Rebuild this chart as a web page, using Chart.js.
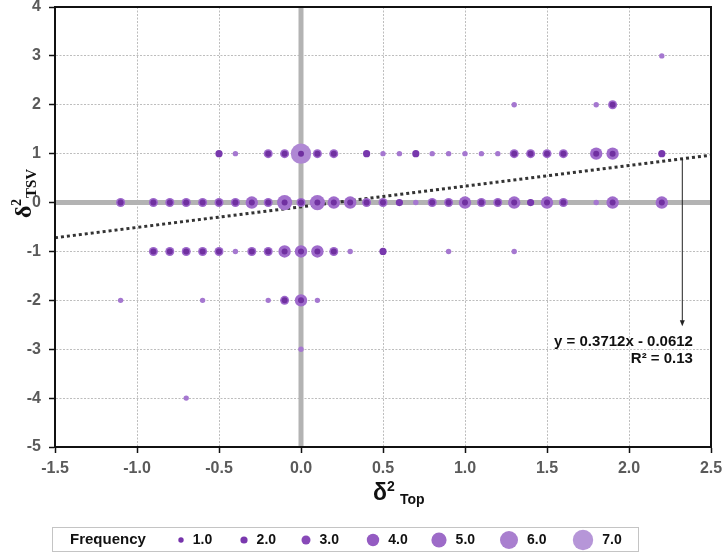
<!DOCTYPE html>
<html>
<head>
<meta charset="utf-8">
<script src="https://cdn.jsdelivr.net/npm/chart.js@4/dist/chart.umd.min.js"></script>
<style>
  body { margin: 0; background: #fff; }
  #wrap { width: 724px; height: 553px; }
</style>
</head>
<body>
<div id="wrap"><canvas id="bubbleChart"></canvas></div>
<script>
// observations: delta^2 Top (x), delta^2 TSV (y) and how often each pair occurs
const pointX = [
  2.2,
  1.3, 1.8, 1.9,
  -0.5, -0.4, -0.2, -0.1, 0, 0.1, 0.2, 0.4, 0.5, 0.6, 0.7, 0.8, 0.9, 1.0, 1.1, 1.2, 1.3, 1.4, 1.5, 1.6, 1.8, 1.9, 2.2,
  -1.1, -0.9, -0.8, -0.7, -0.6, -0.5, -0.4, -0.3, -0.2, -0.1, 0, 0.1, 0.2, 0.3, 0.4, 0.5, 0.6, 0.7, 0.8, 0.9, 1.0, 1.1, 1.2, 1.3, 1.4, 1.5, 1.6, 1.8, 1.9, 2.2,
  -0.9, -0.8, -0.7, -0.6, -0.5, -0.4, -0.3, -0.2, -0.1, 0, 0.1, 0.2, 0.3, 0.5, 0.9, 1.3,
  -1.1, -0.6, -0.2, -0.1, 0, 0.1,
  0,
  -0.7
];
const pointY = [
  3,
  2, 2, 2,
  1, 1, 1, 1, 1, 1, 1, 1, 1, 1, 1, 1, 1, 1, 1, 1, 1, 1, 1, 1, 1, 1, 1,
  0, 0, 0, 0, 0, 0, 0, 0, 0, 0, 0, 0, 0, 0, 0, 0, 0, 0, 0, 0, 0, 0, 0, 0, 0, 0, 0, 0, 0, 0,
  -1, -1, -1, -1, -1, -1, -1, -1, -1, -1, -1, -1, -1, -1, -1, -1,
  -2, -2, -2, -2, -2, -2,
  -3,
  -4
];
const pointFreq = [
  1,
  1, 1, 3,
  2, 1, 3, 3, 7, 3, 3, 2, 1, 1, 2, 1, 1, 1, 1, 1, 3, 3, 3, 3, 4, 4, 2,
  3, 3, 3, 3, 3, 3, 3, 4, 3, 5, 3, 5, 4, 4, 3, 3, 2, 1, 3, 3, 4, 3, 3, 4, 2, 4, 3, 1, 4, 4,
  3, 3, 3, 3, 3, 1, 3, 3, 4, 4, 4, 3, 1, 2, 1, 1,
  1, 1, 1, 3, 4, 1,
  1,
  1
];

// trend line as drawn (end points)
const trendX = [-1.5, 2.5];
const trendY = [-0.72, 0.97];
const trendLabel = 'y = 0.3712x - 0.0612';
const r2Label = 'R² = 0.13';

const xTicks = [-1.5, -1.0, -0.5, 0.0, 0.5, 1.0, 1.5, 2.0, 2.5];
const yTicks = [-5, -4, -3, -2, -1, 0, 1, 2, 3, 4];
const freqLevels = [1, 2, 3, 4, 5, 6, 7];

// size and colour for each frequency level
const freqRadius = { 1: 2.7, 2: 3.6, 3: 4.5, 4: 6.2, 5: 7.6, 6: 9.0, 7: 10.2 };
const legendColor = { 1: '#7633ab', 2: '#7a38ae', 3: '#8849b8', 4: '#945bc2', 5: '#9d6bc8', 6: '#a97fcf', 7: '#b696d8' };
const haloColor = { 1: '#a577d0', 2: '#7838ad', 3: '#9d68cb', 4: '#9f6bcb', 5: '#a372cd', 6: '#a87bd0', 7: '#af88d4' };
const coreColor = '#7030a0';

const bubbles = pointX.map((x, i) => ({ x: x, y: pointY[i] }));
const cores = bubbles.filter((p, i) => pointFreq[i] >= 3);

const tickFont = { family: 'Liberation Sans, Arial, sans-serif', size: 16, weight: 'bold' };

// extra drawing: zero lines, frame, axis titles, annotation, legend
const decorations = {
  id: 'decorations',
  beforeDatasetsDraw(chart) {
    const { ctx, chartArea: a, scales: { x, y } } = chart;
    ctx.save();
    ctx.strokeStyle = '#b3b3b3';
    ctx.lineWidth = 5;
    ctx.beginPath();
    ctx.moveTo(a.left, y.getPixelForValue(0));
    ctx.lineTo(a.right, y.getPixelForValue(0));
    ctx.moveTo(x.getPixelForValue(0), a.top);
    ctx.lineTo(x.getPixelForValue(0), a.bottom);
    ctx.stroke();
    ctx.restore();
  },
  afterDraw(chart) {
    const { ctx, chartArea: a, scales: { x, y } } = chart;
    ctx.save();

    // frame
    ctx.strokeStyle = '#111';
    ctx.lineWidth = 2;
    ctx.strokeRect(a.left, a.top, a.right - a.left, a.bottom - a.top);

    // arrow from trend line to the equation
    const ax = x.getPixelForValue(2.325);
    const slope = (trendY[1] - trendY[0]) / (trendX[1] - trendX[0]);
    const ay0 = y.getPixelForValue(trendY[0] + slope * (2.325 - trendX[0]));
    const ay1 = y.getPixelForValue(-2.53);
    ctx.strokeStyle = '#222';
    ctx.lineWidth = 1;
    ctx.beginPath();
    ctx.moveTo(ax, ay0);
    ctx.lineTo(ax, ay1 - 5);
    ctx.stroke();
    ctx.fillStyle = '#222';
    ctx.beginPath();
    ctx.moveTo(ax - 2.5, ay1 - 6);
    ctx.lineTo(ax + 2.5, ay1 - 6);
    ctx.lineTo(ax, ay1);
    ctx.closePath();
    ctx.fill();

    // equation text
    ctx.fillStyle = '#111';
    ctx.font = 'bold 15px "Liberation Sans", Arial, sans-serif';
    ctx.textAlign = 'right';
    ctx.textBaseline = 'middle';
    const tx = x.getPixelForValue(2.39);
    ctx.fillText(trendLabel, tx, y.getPixelForValue(-2.85));
    ctx.fillText(r2Label, tx, y.getPixelForValue(-3.2));

    // x axis title
    ctx.fillStyle = '#111';
    ctx.textAlign = 'left';
    ctx.textBaseline = 'alphabetic';
    ctx.font = 'bold 23px "Liberation Sans", Arial, sans-serif';
    ctx.fillText('δ', 373, 500);
    ctx.font = 'bold 14px "Liberation Sans", Arial, sans-serif';
    ctx.fillText('2', 387, 491);
    ctx.fillText('Top', 400, 504);

    // y axis title (rotated, serif)
    ctx.translate(31, 218);
    ctx.rotate(-Math.PI / 2);
    ctx.font = 'bold 24px "Liberation Serif", "Times New Roman", serif';
    ctx.fillText('δ', 0, 0);
    ctx.font = 'bold 14px "Liberation Serif", "Times New Roman", serif';
    ctx.fillText('2', 12, -10);
    ctx.font = 'bold 15px "Liberation Serif", "Times New Roman", serif';
    ctx.fillText('TSV', 20, 5);
    ctx.setTransform(1, 0, 0, 1, 0, 0);

    // legend box
    ctx.strokeStyle = '#c4c4c4';
    ctx.lineWidth = 1;
    ctx.strokeRect(52.5, 527.5, 586, 24);
    ctx.fillStyle = '#111';
    ctx.textBaseline = 'middle';
    ctx.font = 'bold 15px "Liberation Sans", Arial, sans-serif';
    ctx.fillText('Frequency', 70, 540);
    const dotCentres = [181, 244, 306, 373, 439, 509, 583];
    ctx.font = 'bold 14px "Liberation Sans", Arial, sans-serif';
    freqLevels.forEach((f, i) => {
      const cx = dotCentres[i];
      const r = freqRadius[f];
      ctx.fillStyle = legendColor[f];
      ctx.beginPath();
      ctx.arc(cx, 540, r, 0, Math.PI * 2);
      ctx.fill();
      ctx.fillStyle = '#111';
      ctx.fillText(f.toFixed(1), cx + r + 9, 540);
    });

    ctx.restore();
  }
};

const config = {
  type: 'scatter',
  data: {
    datasets: [
      {
        label: 'trend',
        type: 'line',
        data: trendX.map((x, i) => ({ x: x, y: trendY[i] })),
        borderColor: '#333',
        borderWidth: 3,
        borderDash: [3, 3],
        pointRadius: 0,
        fill: false,
        order: 3
      },
      {
        label: 'halo',
        data: bubbles,
        pointRadius: ctx => freqRadius[pointFreq[ctx.dataIndex]],
        backgroundColor: ctx => haloColor[pointFreq[ctx.dataIndex]],
        borderWidth: 0,
        order: 2
      },
      {
        label: 'core',
        data: cores,
        pointRadius: 3,
        backgroundColor: coreColor,
        borderWidth: 0,
        order: 1
      }
    ]
  },
  options: {
    responsive: true,
    maintainAspectRatio: false,
    animation: false,
    events: [],
    layout: { autoPadding: false, padding: { top: 7, right: 13, left: 0, bottom: 0 } },
    plugins: {
      legend: { display: false },
      tooltip: { enabled: false }
    },
    scales: {
      x: {
        type: 'linear',
        min: -1.5,
        max: 2.5,
        afterBuildTicks: scale => { scale.ticks = xTicks.map(v => ({ value: v })); },
        afterFit: scale => {
          scale.height = 106;
          scale.paddingLeft = 0;
          scale.paddingRight = 0;
        },
        ticks: {
          font: tickFont,
          color: '#5a5a5a',
          padding: 6,
          maxRotation: 0,
          callback: v => Number(v).toFixed(1)
        },
        grid: {
          color: '#bdbdbd',
          lineWidth: 1,
          tickLength: 6,
          tickColor: '#111',
          tickWidth: 1.5,
          tickBorderDash: []
        },
        border: { color: '#111', width: 2, dash: [2, 1.5] }
      },
      y: {
        type: 'linear',
        min: -5,
        max: 4,
        afterBuildTicks: scale => { scale.ticks = yTicks.map(v => ({ value: v })); },
        afterFit: scale => {
          scale.width = 55;
          scale.paddingTop = 0;
          scale.paddingBottom = 0;
        },
        ticks: {
          font: tickFont,
          color: '#5a5a5a',
          padding: 8
        },
        grid: {
          color: '#bdbdbd',
          lineWidth: 1,
          tickLength: 6,
          tickColor: '#111',
          tickWidth: 1.5,
          tickBorderDash: []
        },
        border: { color: '#111', width: 2, dash: [2, 1.5] }
      }
    }
  },
  plugins: [decorations]
};

new Chart(document.getElementById('bubbleChart'), config);
</script>
</body>
</html>
